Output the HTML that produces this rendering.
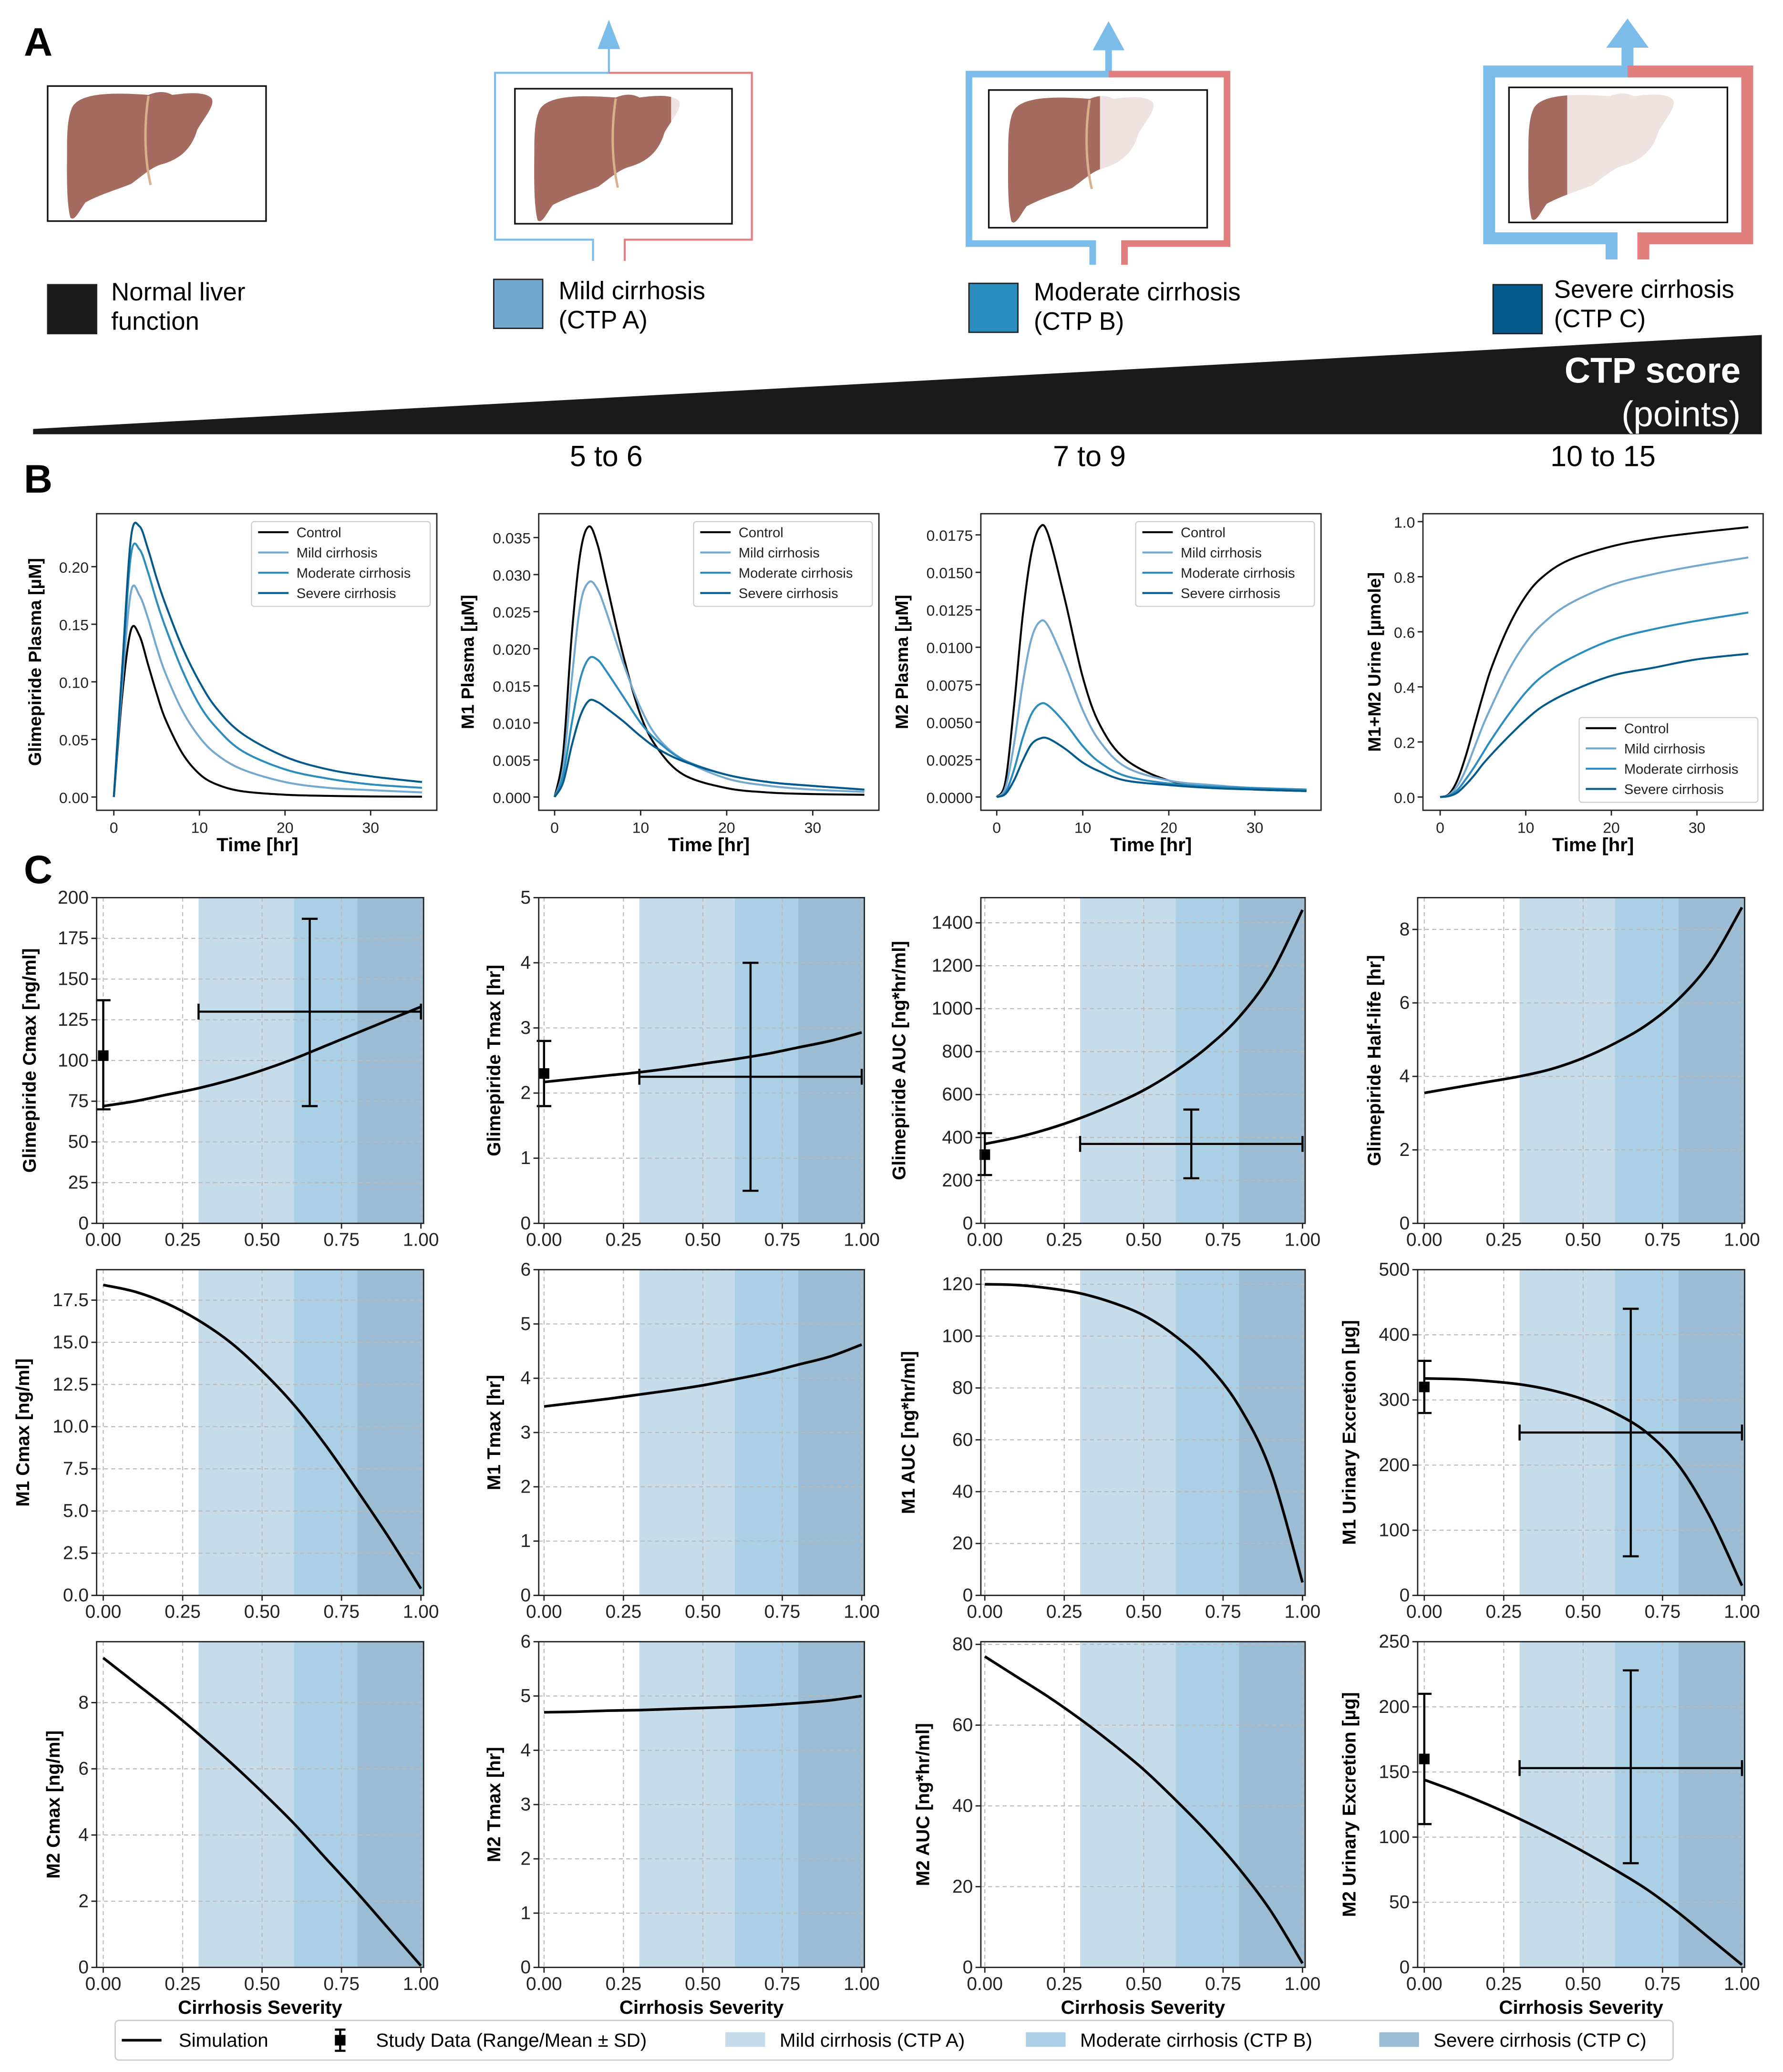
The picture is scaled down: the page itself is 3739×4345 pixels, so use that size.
<!DOCTYPE html>
<html><head><meta charset="utf-8"><style>
html,body{margin:0;padding:0;background:#fff}
svg{display:block}
text{font-family:"Liberation Sans","DejaVu Sans",sans-serif}
</style></head><body>
<svg id="fig" xmlns="http://www.w3.org/2000/svg" width="3739" height="4345" viewBox="0 0 1347 1565" preserveAspectRatio="none">
<rect x="0" y="0" width="1347" height="1565" fill="#fff"/>
<text x="18" y="42" font-size="30" font-weight="bold">A</text>
<g id="panelA"></g>
<polygon points="25,324 1331,253 1331,328 25,328" fill="#1a1a1a"/>
<text x="1315" y="289" font-size="27" font-weight="bold" fill="#fff" text-anchor="end">CTP score</text>
<text x="1315" y="322" font-size="27" fill="#fff" text-anchor="end">(points)</text>
<text x="458" y="352" font-size="22" text-anchor="middle">5 to 6</text>
<text x="823" y="352" font-size="22" text-anchor="middle">7 to 9</text>
<text x="1211" y="352" font-size="22" text-anchor="middle">10 to 15</text>
<text x="18" y="372" font-size="30" font-weight="bold">B</text>
<text x="18" y="667" font-size="30" font-weight="bold">C</text>
<g id="plots"></g>
<g id="bottomLegend"></g>
</svg>
<script>
// ---------- Panel B data ----------
const timeHr = [0,1,2,3,4,5,6,8,10,12,15,20,25,30,36];
const seriesNames = ["Control","Mild cirrhosis","Moderate cirrhosis","Severe cirrhosis"];
const seriesColors = ["#000000","#74a9cf","#2b8cbe","#045a8d"];
const glimControl = [0,0.09,0.145,0.14,0.115,0.09,0.068,0.038,0.02,0.011,0.005,0.002,0.001,0.0005,0.0003];
const glimMild = [0,0.10,0.178,0.175,0.155,0.13,0.108,0.075,0.052,0.037,0.024,0.013,0.008,0.006,0.004];
const glimModerate = [0,0.11,0.21,0.215,0.195,0.17,0.148,0.11,0.08,0.06,0.04,0.024,0.016,0.011,0.008];
const glimSevere = [0,0.115,0.225,0.235,0.215,0.19,0.168,0.13,0.1,0.077,0.055,0.035,0.024,0.018,0.013];
const m1Control = [0,0.006,0.022,0.033,0.0365,0.034,0.029,0.019,0.011,0.0065,0.003,0.0012,0.0006,0.0004,0.0003];
const m1Mild = [0,0.004,0.016,0.026,0.029,0.028,0.025,0.018,0.012,0.008,0.005,0.0025,0.0015,0.001,0.0007];
const m1Moderate = [0,0.003,0.01,0.016,0.0187,0.0185,0.017,0.0135,0.01,0.0075,0.005,0.003,0.002,0.0015,0.001];
const m1Severe = [0,0.002,0.007,0.011,0.013,0.0128,0.012,0.0102,0.0082,0.0065,0.0048,0.003,0.002,0.0015,0.001];
const m2Control = [0,0.001,0.006,0.012,0.0162,0.018,0.0175,0.013,0.008,0.0048,0.0025,0.0011,0.0007,0.0005,0.0004];
const m2Mild = [0,0.0006,0.0035,0.0075,0.0105,0.0117,0.0114,0.0088,0.0058,0.0037,0.002,0.0011,0.0008,0.0006,0.0005];
const m2Moderate = [0,0.0003,0.0018,0.0039,0.0055,0.0062,0.0061,0.0049,0.0034,0.0023,0.0014,0.0009,0.0007,0.0006,0.0005];
const m2Severe = [0,0.0002,0.0011,0.0024,0.0035,0.0039,0.0039,0.0032,0.0023,0.0017,0.0011,0.0008,0.0006,0.0005,0.0004];
const urineControl = [0,0.01,0.06,0.15,0.26,0.37,0.47,0.62,0.73,0.8,0.86,0.91,0.94,0.96,0.98];
const urineMild = [0,0.007,0.04,0.1,0.18,0.26,0.33,0.46,0.56,0.63,0.7,0.77,0.81,0.84,0.87];
const urineModerate = [0,0.005,0.025,0.065,0.11,0.16,0.21,0.3,0.38,0.44,0.5,0.57,0.61,0.64,0.67];
const urineSevere = [0,0.003,0.016,0.045,0.08,0.12,0.155,0.22,0.28,0.33,0.38,0.44,0.47,0.5,0.52];
const timeTicks = [0,10,20,30];
const glimTicks = [0,0.05,0.1,0.15,0.2];
const m1Ticks = [0,0.005,0.01,0.015,0.02,0.025,0.03,0.035];
const m2Ticks = [0,0.0025,0.005,0.0075,0.01,0.0125,0.015,0.0175];
const urineTicks = [0,0.2,0.4,0.6,0.8,1.0];

// ---------- Panel C data ----------
const severity = [0,0.1,0.2,0.3,0.4,0.5,0.6,0.7,0.8,0.9,1.0];
const sevTicks = [0,0.25,0.5,0.75,1.0];
const glimCmaxSim = [72,75,79,83,88,94,101,109,117,125,133];
const glimTmaxSim = [2.17,2.22,2.27,2.32,2.38,2.45,2.52,2.6,2.7,2.8,2.93];
const glimAucSim = [370,400,440,490,550,620,710,820,960,1160,1460];
const glimHalfSim = [3.55,3.7,3.85,4.0,4.2,4.5,4.9,5.4,6.1,7.1,8.6];
const m1CmaxSim = [18.4,18.0,17.3,16.3,15.0,13.3,11.3,8.9,6.2,3.4,0.4];
const m1TmaxSim = [3.48,3.55,3.62,3.7,3.78,3.87,3.98,4.1,4.25,4.4,4.62];
const m1AucSim = [120,119.7,118.5,116.5,113,108,100,89,73,48,5];
const m1UrineSim = [333,332,329,324,315,301,280,250,200,120,15];
const m2CmaxSim = [9.35,8.6,7.85,7.05,6.2,5.3,4.35,3.3,2.25,1.15,0.05];
const m2TmaxSim = [4.7,4.71,4.73,4.74,4.76,4.78,4.8,4.83,4.87,4.92,5.0];
const m2AucSim = [77,72,67,61.5,55.5,49,41.5,33.5,24.5,14,1];
const m2UrineSim = [144,135,125,114,102,89,75,60,42,22,2];
const glimCmaxCtrl = [103,70,137];
const glimCmaxCirr = [130,0.3,1.0,0.65,72,187];
const glimTmaxCtrl = [2.3,1.8,2.8];
const glimTmaxCirr = [2.25,0.3,1.0,0.65,0.5,4.0];
const glimAucCtrl = [320,225,420];
const glimAucCirr = [370,0.3,1.0,0.65,210,530];
const m1UrineCtrl = [320,280,360];
const m1UrineCirr = [250,0.3,1.0,0.65,60,440];
const m2UrineCtrl = [160,110,210];
const m2UrineCirr = [153,0.3,1.0,0.65,80,228];
const regionBounds = [0.3,0.6,0.8,1.0];
const regionColors = ["#c6dcea","#abd0e6","#9bbcd2"];

const NS = "http://www.w3.org/2000/svg";
function mk(tag, attrs, parent){
  const e = document.createElementNS(NS, tag);
  for (const k in attrs) e.setAttribute(k, attrs[k]);
  if (parent) parent.appendChild(e);
  return e;
}
function lin(v0,p0,v1,p1){ const k=(p1-p0)/(v1-v0); return v=>p0+(v-v0)*k; }
function smoothPath(pts){
  let d = "M"+pts[0][0].toFixed(2)+","+pts[0][1].toFixed(2);
  for (let i=0;i<pts.length-1;i++){
    const p0=pts[Math.max(0,i-1)], p1=pts[i], p2=pts[i+1], p3=pts[Math.min(pts.length-1,i+2)];
    const c1=[p1[0]+(p2[0]-p0[0])/6, p1[1]+(p2[1]-p0[1])/6];
    const c2=[p2[0]-(p3[0]-p1[0])/6, p2[1]-(p3[1]-p1[1])/6];
    d += " C"+c1[0].toFixed(2)+","+c1[1].toFixed(2)+" "+c2[0].toFixed(2)+","+c2[1].toFixed(2)+" "+p2[0].toFixed(2)+","+p2[1].toFixed(2);
  }
  return d;
}

// ---------- Panel A ----------
const A = document.getElementById("panelA");
const liverD = "M18,24 C26,10 60,11 88,13 C98,9 104,10 110,13 C125,11 140,10 146,16 C150,22 140,33 133,45 C128,62 118,72 100,77 C90,80 82,88 72,95 C60,100 45,104 30,112 C24,120 20,130 16,126 C12,110 13,80 13,60 C13,45 14,32 18,24Z";
const liverScale = 0.82;
const liverBoxes = [[36,65,165,102,null,0],[389,67,164,102,118,1.5],[747,68,165,104,84,5],[1140,66,165,102,44,9]];
const liverNames = ["liver-normal","liver-mild","liver-moderate","liver-severe"];
liverBoxes.forEach((b,i)=>{
  const g = mk("g",{transform:"translate("+b[0]+","+b[1]+")"},A);
  
  
  mk("rect",{x:0,y:0,width:b[2],height:b[3],fill:"#fff",stroke:"#111","stroke-width":1.2},g);
  const cp = mk("clipPath",{id:"clipL"+i},g);
  mk("rect",{x:0,y:0,width:b[4]===null?b[2]:b[4],height:b[3]},cp);
  const lg = mk("g",{transform:"translate(4,-4) scale("+liverScale+")"},g);
  mk("path",{d:liverD,fill:"#efe3e1"},lg);
  const lb = mk("g",{"clip-path":"url(#clipL"+i+")"},g);
  const lg2 = mk("g",{transform:"translate(4,-4) scale("+liverScale+")"},lb);
  mk("path",{d:liverD,fill:"#a56b60"},lg2);
  mk("path",{d:"M88,14 C84,40 84,70 90,96",fill:"none",stroke:"#d9b08c","stroke-width":2.2},lg2);
  if (b[4]!==null){
    const w=b[5], cx=b[0]+b[2]/2+ (i===1?-11:(i===2?8:7));
    const top=b[1]-12, bot=b[1]+b[3]+12, L=b[0]-15, R=b[0]+b[2]+15;
    const ex=bot+16;
    const blue = mk("path",{d:"M"+(cx-12)+","+ex+" V"+bot+" H"+L+" V"+top+" H"+cx+" V"+(top-20),fill:"none",stroke:"#7bbcea","stroke-width":w,"stroke-linejoin":"miter"},A);
    
    
    const red = mk("path",{d:"M"+(cx+12)+","+ex+" V"+bot+" H"+R+" V"+top+" H"+cx,fill:"none",stroke:"#e17e7e","stroke-width":w},A);
    
    
    const aw = 7+w;
    const arr = mk("polygon",{points:(cx-aw)+","+(top-18)+" "+(cx+aw)+","+(top-18)+" "+cx+","+(top-40)},A);
    arr.setAttribute("fill","#7bbcea");
    
    
  }
});
const legA = [[36,215,"#1a1a1a","Normal liver","function",84,226],[373,211,"#74a9cf","Mild cirrhosis","(CTP A)",422,225],[732,214,"#2b8cbe","Moderate cirrhosis","(CTP B)",781,226],[1128,215,"#045a8d","Severe cirrhosis","(CTP C)",1174,224]];
legA.forEach(l=>{
  const r = mk("rect",{x:l[0],y:l[1],width:37,height:37,fill:l[2],stroke:"#222","stroke-width":1},A);
  
  
  const t1 = mk("text",{x:l[5],y:l[6]+1,"font-size":19},A); t1.textContent=l[3];
  
  
  const t2 = mk("text",{x:l[5],y:l[6]+23,"font-size":19},A); t2.textContent=l[4];
  
  
});

const plots = document.getElementById("plots");
function fmt(v,dp){ return v.toFixed(dp); }

function axesGrid(g,box,xs,ys,xticks,yticks){
  const [x0,y0,x1,y1]=box;
  xticks.forEach(t=>mk("line",{x1:xs(t),x2:xs(t),y1:y0,y2:y1,stroke:"#bbb","stroke-width":0.8,"stroke-dasharray":"3,2.5"},g));
  yticks.forEach(t=>mk("line",{x1:x0,x2:x1,y1:ys(t),y2:ys(t),stroke:"#bbb","stroke-width":0.8,"stroke-dasharray":"3,2.5"},g));
}
function axesTicks(g,box,xs,ys,xticks,xdp,yticks,ydp,fs){
  const [x0,y0,x1,y1]=box;
  mk("rect",{x:x0,y:y0,width:x1-x0,height:y1-y0,fill:"none",stroke:"#222","stroke-width":1},g);
  xticks.forEach(t=>{
    mk("line",{x1:xs(t),x2:xs(t),y1:y1,y2:y1+4,stroke:"#222","stroke-width":1},g);
    const tx = mk("text",{x:xs(t),y:y1+17,"font-size":fs,"text-anchor":"middle",fill:"#222"},g);
    tx.textContent = fmt(t,xdp);
    
    
  });
  yticks.forEach(t=>{
    mk("line",{x1:x0-4,x2:x0,y1:ys(t),y2:ys(t),stroke:"#222","stroke-width":1},g);
    const ty = mk("text",{x:x0-6,y:ys(t)+4.5,"font-size":fs,"text-anchor":"end",fill:"#222"},g);
    ty.textContent = fmt(t,ydp);
    
    
  });
}
function yTitle(g,x,cy,txt,fs){
  const t = mk("text",{x:x,y:cy,"font-size":fs,"font-weight":"bold","text-anchor":"middle",transform:"rotate(-90 "+x+" "+cy+")"},g);
  t.textContent = txt;
  
  
}
function xTitle(g,cx,y,txt){
  const t = mk("text",{x:cx,y:y,"font-size":14.5,"font-weight":"bold","text-anchor":"middle"},g);
  t.textContent = txt;
  
  
}

// ---------- Panel B ----------
const bPanels = [
  {box:[73,388,330,612],x0p:86,x30p:280,yv:0.2,yvp:428,ticks:glimTicks,dp:2,series:[glimControl,glimMild,glimModerate,glimSevere],title:"Glimepiride Plasma [µM]",tx:31,leg:[190,394],name:"glimepiride-plasma-chart"},
  {box:[407,388,664,612],x0p:419,x30p:614,yv:0.035,yvp:406,ticks:m1Ticks,dp:3,series:[m1Control,m1Mild,m1Moderate,m1Severe],title:"M1 Plasma [µM]",tx:358,leg:[524,394],name:"m1-plasma-chart"},
  {box:[741,388,998,612],x0p:753,x30p:948,yv:0.0175,yvp:404,ticks:m2Ticks,dp:4,series:[m2Control,m2Mild,m2Moderate,m2Severe],title:"M2 Plasma [µM]",tx:686,leg:[858,394],name:"m2-plasma-chart"},
  {box:[1075,388,1332,612],x0p:1088,x30p:1282,yv:1.0,yvp:394,ticks:urineTicks,dp:1,series:[urineControl,urineMild,urineModerate,urineSevere],title:"M1+M2 Urine [µmole]",tx:1043,leg:[1193,542],name:"urine-excretion-chart"}
];
bPanels.forEach(p=>{
  const g = mk("g",{},plots);
  
  
  const xs = lin(0,p.x0p,30,p.x30p), ys = lin(0,602,p.yv,p.yvp);
  const cp = mk("clipPath",{id:"cp"+p.name},g);
  mk("rect",{x:p.box[0],y:p.box[1],width:p.box[2]-p.box[0],height:p.box[3]-p.box[1]},cp);
  const cg = mk("g",{"clip-path":"url(#cp"+p.name+")"},g);
  p.series.forEach((s,i)=>{
    const path = mk("path",{d:smoothPath(timeHr.map((t,j)=>[xs(t),ys(s[j])])),fill:"none",stroke:seriesColors[i],"stroke-width":1.5},cg);
    
    
  });
  axesTicks(g,p.box,xs,ys,timeTicks,0,p.ticks,p.dp,11.5);
  yTitle(g,p.tx,(p.box[1]+p.box[3])/2,p.title,13.5);
  xTitle(g,(p.box[0]+p.box[2])/2+(p.box[0]===73?-7:0),643,"Time [hr]");
  const [lx,ly]=p.leg;
  const lgd = mk("g",{},g);
  
  
  mk("rect",{x:lx,y:ly,width:135,height:64,rx:2,fill:"#fff","fill-opacity":0.85,stroke:"#ccc","stroke-width":0.8},lgd);
  seriesNames.forEach((n,i)=>{
    const yy = ly+8+i*15.3;
    mk("line",{x1:lx+5,x2:lx+28,y1:yy,y2:yy,stroke:seriesColors[i],"stroke-width":1.5},lgd);
    const t = mk("text",{x:lx+34,y:yy+3.8,"font-size":10.5,fill:"#222"},lgd);
    t.textContent = n;
    
    
  });
});

// ---------- Panel C ----------
const colX = [[73,320,78,318],[407,653,411,651],[741,986,744,984],[1071,1318,1076,1316]];
const rowY = [[678,924],[959,1205],[1240,1486]];
const titleX = [27,378,684,1043, 22,378,691,1024, 45,378,702,1024];
const cPanels = [
  {sim:glimCmaxSim,ticks:[0,25,50,75,100,125,150,175,200],dp:0,tv:200,tp:678,title:"Glimepiride Cmax [ng/ml]",ctrl:glimCmaxCtrl,cirr:glimCmaxCirr,name:"glimepiride-cmax-chart"},
  {sim:glimTmaxSim,ticks:[0,1,2,3,4,5],dp:0,tv:5,tp:678,title:"Glimepiride Tmax [hr]",ctrl:glimTmaxCtrl,cirr:glimTmaxCirr,name:"glimepiride-tmax-chart"},
  {sim:glimAucSim,ticks:[0,200,400,600,800,1000,1200,1400],dp:0,tv:1400,tp:697,title:"Glimepiride AUC [ng*hr/ml]",ctrl:glimAucCtrl,cirr:glimAucCirr,name:"glimepiride-auc-chart"},
  {sim:glimHalfSim,ticks:[0,2,4,6,8],dp:0,tv:8,tp:702,title:"Glimepiride Half-life [hr]",ctrl:null,cirr:null,name:"glimepiride-halflife-chart"},
  {sim:m1CmaxSim,ticks:[0,2.5,5,7.5,10,12.5,15,17.5],dp:1,tv:17.5,tp:982,title:"M1 Cmax [ng/ml]",ctrl:null,cirr:null,name:"m1-cmax-chart"},
  {sim:m1TmaxSim,ticks:[0,1,2,3,4,5,6],dp:0,tv:6,tp:959,title:"M1 Tmax [hr]",ctrl:null,cirr:null,name:"m1-tmax-chart"},
  {sim:m1AucSim,ticks:[0,20,40,60,80,100,120],dp:0,tv:120,tp:970,title:"M1 AUC [ng*hr/ml]",ctrl:null,cirr:null,name:"m1-auc-chart"},
  {sim:m1UrineSim,ticks:[0,100,200,300,400,500],dp:0,tv:500,tp:959,title:"M1 Urinary Excretion [µg]",ctrl:m1UrineCtrl,cirr:m1UrineCirr,name:"m1-urine-chart"},
  {sim:m2CmaxSim,ticks:[0,2,4,6,8],dp:0,tv:8,tp:1286,title:"M2 Cmax [ng/ml]",ctrl:null,cirr:null,name:"m2-cmax-chart"},
  {sim:m2TmaxSim,ticks:[0,1,2,3,4,5,6],dp:0,tv:6,tp:1240,title:"M2 Tmax [hr]",ctrl:null,cirr:null,name:"m2-tmax-chart"},
  {sim:m2AucSim,ticks:[0,20,40,60,80],dp:0,tv:80,tp:1242,title:"M2 AUC [ng*hr/ml]",ctrl:null,cirr:null,name:"m2-auc-chart"},
  {sim:m2UrineSim,ticks:[0,50,100,150,200,250],dp:0,tv:250,tp:1240,title:"M2 Urinary Excretion [µg]",ctrl:m2UrineCtrl,cirr:m2UrineCirr,name:"m2-urine-chart"}
];
cPanels.forEach((p,i)=>{
  const c = colX[i%4], r = rowY[Math.floor(i/4)];
  const box = [c[0],r[0],c[1],r[1]];
  const g = mk("g",{},plots);
  
  
  const xs = lin(0,c[2],1,c[3]), ys = lin(0,r[1],p.tv,p.tp);
  for (let k=0;k<3;k++){
    const xa = xs(regionBounds[k]), xb = Math.min(xs(regionBounds[k+1]), box[2]);
    const reg = mk("rect",{x:xa,y:box[1],width:(k===2?box[2]:xb)-xa,height:box[3]-box[1],fill:regionColors[k]},g);
    
    
  }
  axesGrid(g,box,xs,ys,sevTicks,p.ticks);
  const cp = mk("clipPath",{id:"cpc"+i},g);
  mk("rect",{x:box[0],y:box[1],width:box[2]-box[0],height:box[3]-box[1]},cp);
  const sim = mk("path",{d:smoothPath(severity.map((s,j)=>[xs(s),ys(p.sim[j])])),fill:"none",stroke:"#000","stroke-width":2,"clip-path":"url(#cpc"+i+")"},g);
  
  
  if (p.ctrl){
    const eg = mk("g",{stroke:"#000","stroke-width":1.6},g);
    
    
    const cx = xs(0);
    mk("line",{x1:cx,x2:cx,y1:ys(p.ctrl[1]),y2:ys(p.ctrl[2])},eg);
    mk("line",{x1:cx-5.5,x2:cx+5.5,y1:ys(p.ctrl[1]),y2:ys(p.ctrl[1])},eg);
    mk("line",{x1:cx-5.5,x2:cx+5.5,y1:ys(p.ctrl[2]),y2:ys(p.ctrl[2])},eg);
    mk("rect",{x:cx-4,y:ys(p.ctrl[0])-4,width:8,height:8,fill:"#000",stroke:"none"},eg);
    const q = p.cirr;
    const cg2 = mk("g",{stroke:"#000","stroke-width":1.6},g);
    
    
    mk("line",{x1:xs(q[1]),x2:xs(q[2]),y1:ys(q[0]),y2:ys(q[0])},cg2);
    mk("line",{x1:xs(q[1]),x2:xs(q[1]),y1:ys(q[0])-6,y2:ys(q[0])+6},cg2);
    mk("line",{x1:xs(q[2]),x2:xs(q[2]),y1:ys(q[0])-6,y2:ys(q[0])+6},cg2);
    mk("line",{x1:xs(q[3]),x2:xs(q[3]),y1:ys(q[4]),y2:ys(q[5])},cg2);
    mk("line",{x1:xs(q[3])-6,x2:xs(q[3])+6,y1:ys(q[4]),y2:ys(q[4])},cg2);
    mk("line",{x1:xs(q[3])-6,x2:xs(q[3])+6,y1:ys(q[5]),y2:ys(q[5])},cg2);
  }
  axesTicks(g,box,xs,ys,sevTicks,2,p.ticks,p.dp,14);
  yTitle(g,titleX[i],(box[1]+box[3])/2,p.title,14);
  if (i>=8) xTitle(g,(box[0]+box[2])/2,1521,"Cirrhosis Severity");
});

// ---------- Bottom legend ----------
const BL = document.getElementById("bottomLegend");


mk("rect",{x:87,y:1526,width:1177,height:30,rx:3,fill:"#fff",stroke:"#ccc","stroke-width":1},BL);
mk("line",{x1:92,x2:122,y1:1541,y2:1541,stroke:"#000","stroke-width":2},BL);
const bt1 = mk("text",{x:135,y:1546,"font-size":14.5},BL); bt1.textContent="Simulation";


mk("line",{x1:257,x2:257,y1:1533,y2:1549,stroke:"#000","stroke-width":1.6},BL);
mk("line",{x1:253,x2:261,y1:1533,y2:1533,stroke:"#000","stroke-width":1.6},BL);
mk("line",{x1:253,x2:261,y1:1549,y2:1549,stroke:"#000","stroke-width":1.6},BL);
mk("rect",{x:253,y:1537,width:8,height:8,fill:"#000"},BL);
const bt2 = mk("text",{x:284,y:1546,"font-size":14.5},BL); bt2.textContent="Study Data (Range/Mean ± SD)";


const legPatch = [[548,"Mild cirrhosis (CTP A)"],[775,"Moderate cirrhosis (CTP B)"],[1042,"Severe cirrhosis (CTP C)"]];
legPatch.forEach((l,k)=>{
  mk("rect",{x:l[0],y:1535,width:30,height:11,fill:regionColors[k]},BL);
  const t = mk("text",{x:l[0]+41,y:1546,"font-size":14.5},BL); t.textContent=l[1];
  
  
});
</script>
</body></html>
